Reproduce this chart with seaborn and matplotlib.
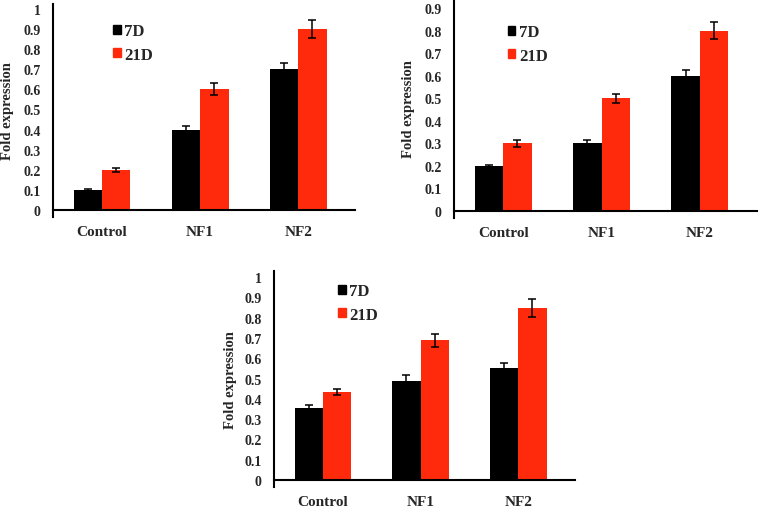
import numpy as np
import pandas as pd
import matplotlib
matplotlib.use('Agg')
import matplotlib.pyplot as plt
from matplotlib.patches import Rectangle
import seaborn as sns

# data
groups = ['Control', 'NF1', 'NF2']
days = ['7D', '21D']

top_left_7d = [0.10, 0.40, 0.70]
top_left_21d = [0.20, 0.60, 0.90]
top_left_err_7d = [0.004, 0.017, 0.032]
top_left_err_21d = [0.010, 0.030, 0.046]

top_right_7d = [0.20, 0.30, 0.60]
top_right_21d = [0.30, 0.50, 0.80]
top_right_err_7d = [0.006, 0.014, 0.026]
top_right_err_21d = [0.014, 0.021, 0.038]

bottom_7d = [0.355, 0.49, 0.55]
bottom_21d = [0.433, 0.688, 0.846]
bottom_err_7d = [0.016, 0.027, 0.026]
bottom_err_21d = [0.016, 0.034, 0.044]

colors = ['#000000', '#ff2a0c']

sns.set_style('white')
plt.rcParams['font.family'] = ['Liberation Serif', 'DejaVu Serif']
plt.rcParams['font.weight'] = 'bold'

W, H = 761, 510
fig = plt.figure(figsize=(W / 100, H / 100), dpi=100)


def add_panel(px_left, px_right, px_top, px_bottom, ylim, ymax_tick,
              v7, v21, e7, e21, leg_xy, ylabel_x):
    ax = fig.add_axes([px_left / W, 1 - px_bottom / H,
                       (px_right - px_left) / W, (px_bottom - px_top) / H])
    df = pd.DataFrame({
        'group': groups * 2,
        'day': [days[0]] * 3 + [days[1]] * 3,
        'value': v7 + v21,
    })
    sns.barplot(data=df, x='group', y='value', hue='day', palette=colors,
                width=0.58, saturation=1, errorbar=None, ax=ax,
                linewidth=0, legend=False)
    for cont, err in zip(ax.containers, [e7, e21]):
        xs = [p.get_x() + p.get_width() / 2 for p in cont.patches]
        hs = [p.get_height() for p in cont.patches]
        ax.errorbar(xs, hs, yerr=err, fmt='none', ecolor='black',
                    elinewidth=1.1, capsize=3.2, capthick=1.1, zorder=5)

    ax.set_xlim(-0.5, 2.58)
    ax.set_ylim(*ylim)
    ax.spines['bottom'].set_position(('data', 0))
    for s in ['top', 'right']:
        ax.spines[s].set_visible(False)
    for s in ['left', 'bottom']:
        ax.spines[s].set_linewidth(1.5)
        ax.spines[s].set_color('black')

    yt = np.round(np.arange(0, ymax_tick + 0.001, 0.1), 1)
    ax.set_yticks(yt)
    ax.set_yticklabels(['0' if v == 0 else ('1' if v == 1 else f'{v:g}') for v in yt],
                       fontsize=10, fontweight='bold')
    ax.tick_params(axis='y', direction='out', length=3, width=1, pad=6)

    ax.set_xticks([0, 1, 2])
    ax.set_xticklabels(groups, fontsize=11, fontweight='bold')
    ax.set_xticks([0.5, 1.5, 2.5], minor=True)
    ax.tick_params(axis='x', which='major', length=0, pad=11)
    ax.tick_params(axis='x', which='minor', direction='out', length=3, width=1)

    ax.set_xlabel('')
    ax.set_ylabel('Fold expression', fontsize=10.5, fontweight='bold')
    ax.yaxis.set_label_coords(ylabel_x, 0.5)
    ax.grid(False)

    handles = [Rectangle((0, 0), 1, 1, color=c) for c in colors]
    ax.legend(handles, days, loc='center left', bbox_to_anchor=leg_xy,
              frameon=False, borderpad=0, borderaxespad=0,
              handlelength=0.45, handleheight=0.45, handletextpad=0.2,
              labelspacing=0.45, prop={'size': 12, 'weight': 'bold'})
    return ax


add_panel(53, 355, 5, 218, (-0.035, 1.025), 1.0,
          top_left_7d, top_left_21d, top_left_err_7d, top_left_err_21d,
          (0.199, 0.817), -0.129)
add_panel(454, 757, 0, 219, (-0.031, 0.94), 0.9,
          top_right_7d, top_right_21d, top_right_err_7d, top_right_err_21d,
          (0.178, 0.795), -0.129)
add_panel(274, 575, 272, 488, (-0.034, 1.03), 1.0,
          bottom_7d, bottom_21d, bottom_err_7d, bottom_err_21d,
          (0.213, 0.852), -0.123)

fig.savefig('out.png', dpi=100)
